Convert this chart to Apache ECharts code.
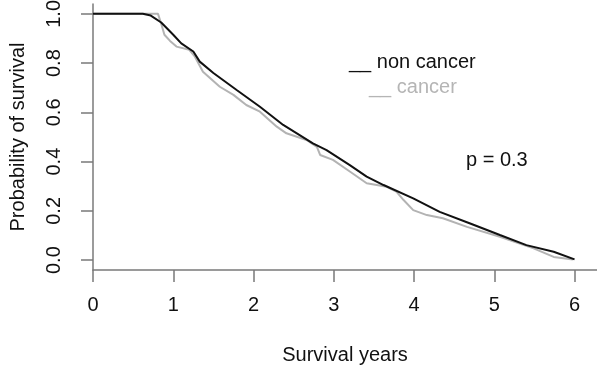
<!DOCTYPE html>
<html>
<head>
<meta charset="utf-8">
<script src="https://fastly.jsdelivr.net/npm/echarts@6/dist/echarts.min.js"></script>
<style>
  html, body { margin: 0; padding: 0; background: #fff; }
  #chart { width: 597px; height: 368px; }
</style>
</head>
<body>
<div id="chart"></div>
<script>
// Kaplan-Meier curves (years, survival)
const nonCancerYears = [0, 0.62, 0.72, 0.85, 1.0, 1.1, 1.25, 1.33, 1.5, 1.79, 2.08, 2.37, 2.74, 2.91, 3.2, 3.41, 3.62, 3.99, 4.32, 4.7, 5.07, 5.4, 5.74, 6.0];
const nonCancerSurvival = [1, 1, 0.993, 0.965, 0.915, 0.88, 0.847, 0.806, 0.76, 0.691, 0.623, 0.549, 0.474, 0.447, 0.386, 0.339, 0.305, 0.251, 0.196, 0.149, 0.102, 0.061, 0.034, 0.003];

const cancerYears = [0, 0.81, 0.85, 0.89, 0.96, 1.04, 1.2, 1.27, 1.37, 1.58, 1.75, 1.91, 2.08, 2.29, 2.41, 2.66, 2.79, 2.83, 2.99, 3.2, 3.41, 3.66, 3.78, 3.87, 3.99, 4.16, 4.36, 4.66, 5.07, 5.49, 5.74, 5.98];
const cancerSurvival = [1, 1, 0.96, 0.915, 0.89, 0.867, 0.854, 0.826, 0.765, 0.704, 0.671, 0.63, 0.603, 0.542, 0.515, 0.488, 0.46, 0.427, 0.407, 0.36, 0.312, 0.298, 0.278, 0.244, 0.203, 0.183, 0.17, 0.135, 0.095, 0.048, 0.013, 0.003];

const xTicks = [0, 1, 2, 3, 4, 5, 6];
const yTicks = [0, 0.2, 0.4, 0.6, 0.8, 1.0];

const seriesNames = ['non cancer', 'cancer'];
const pValueText = 'p = 0.3';

const FONT = 'Liberation Sans, Arial, sans-serif';
const AXIS_COLOR = '#7a7a7a';

function pairs(xs, ys) {
  return xs.map(function (x, i) { return [x, ys[i]]; });
}

var myChart = echarts.init(document.getElementById('chart'), null, { renderer: 'canvas' });

var option = {
  animation: false,
  backgroundColor: '#fff',
  grid: { left: 93, right: 0, top: 4, bottom: 98, containLabel: false, outerBoundsMode: 'none' },
  xAxis: {
    type: 'value',
    min: 0,
    max: 6.28,
    name: 'Survival years',
    nameLocation: 'middle',
    nameGap: 75,
    nameTextStyle: { fontFamily: FONT, fontSize: 20, color: '#111', verticalAlign: 'top' },
    axisLine: { show: true, onZero: false, lineStyle: { color: AXIS_COLOR, width: 1.5 } },
    axisTick: { show: true, length: 12, customValues: xTicks, lineStyle: { color: AXIS_COLOR, width: 1.5 } },
    axisLabel: { customValues: xTicks, margin: 25, fontFamily: FONT, fontSize: 20, color: '#111' },
    splitLine: { show: false }
  },
  yAxis: {
    type: 'value',
    min: -0.04,
    max: 1.04,
    name: 'Probability of survival',
    nameLocation: 'middle',
    nameRotate: 90,
    nameGap: 65,
    nameTextStyle: { fontFamily: FONT, fontSize: 20, color: '#111' },
    axisLine: { show: true, onZero: false, lineStyle: { color: AXIS_COLOR, width: 1.5 } },
    axisTick: { show: true, length: 12, customValues: yTicks, lineStyle: { color: AXIS_COLOR, width: 1.5 } },
    axisLabel: {
      customValues: yTicks,
      rotate: 90,
      margin: 29,
      fontFamily: FONT, fontSize: 20, color: '#111',
      formatter: function (v) { return v.toFixed(1); }
    },
    splitLine: { show: false }
  },
  series: [
    {
      name: seriesNames[1],
      type: 'line',
      showSymbol: false,
      data: pairs(cancerYears, cancerSurvival),
      lineStyle: { color: '#b3b3b3', width: 2 },
      z: 2
    },
    {
      name: seriesNames[0],
      type: 'line',
      showSymbol: false,
      data: pairs(nonCancerYears, nonCancerSurvival),
      lineStyle: { color: '#111', width: 2 },
      z: 3
    }
  ],
  graphic: [
    { type: 'text', left: 349, top: 52, style: { text: '__ ' + seriesNames[0], font: '20px ' + FONT, fill: '#111' } },
    { type: 'text', left: 369, top: 77, style: { text: '__ ' + seriesNames[1], font: '20px ' + FONT, fill: '#b5b5b5' } },
    { type: 'text', left: 466, top: 150, style: { text: pValueText, font: '20px ' + FONT, fill: '#111' } }
  ]
};

myChart.setOption(option);
</script>
</body>
</html>
